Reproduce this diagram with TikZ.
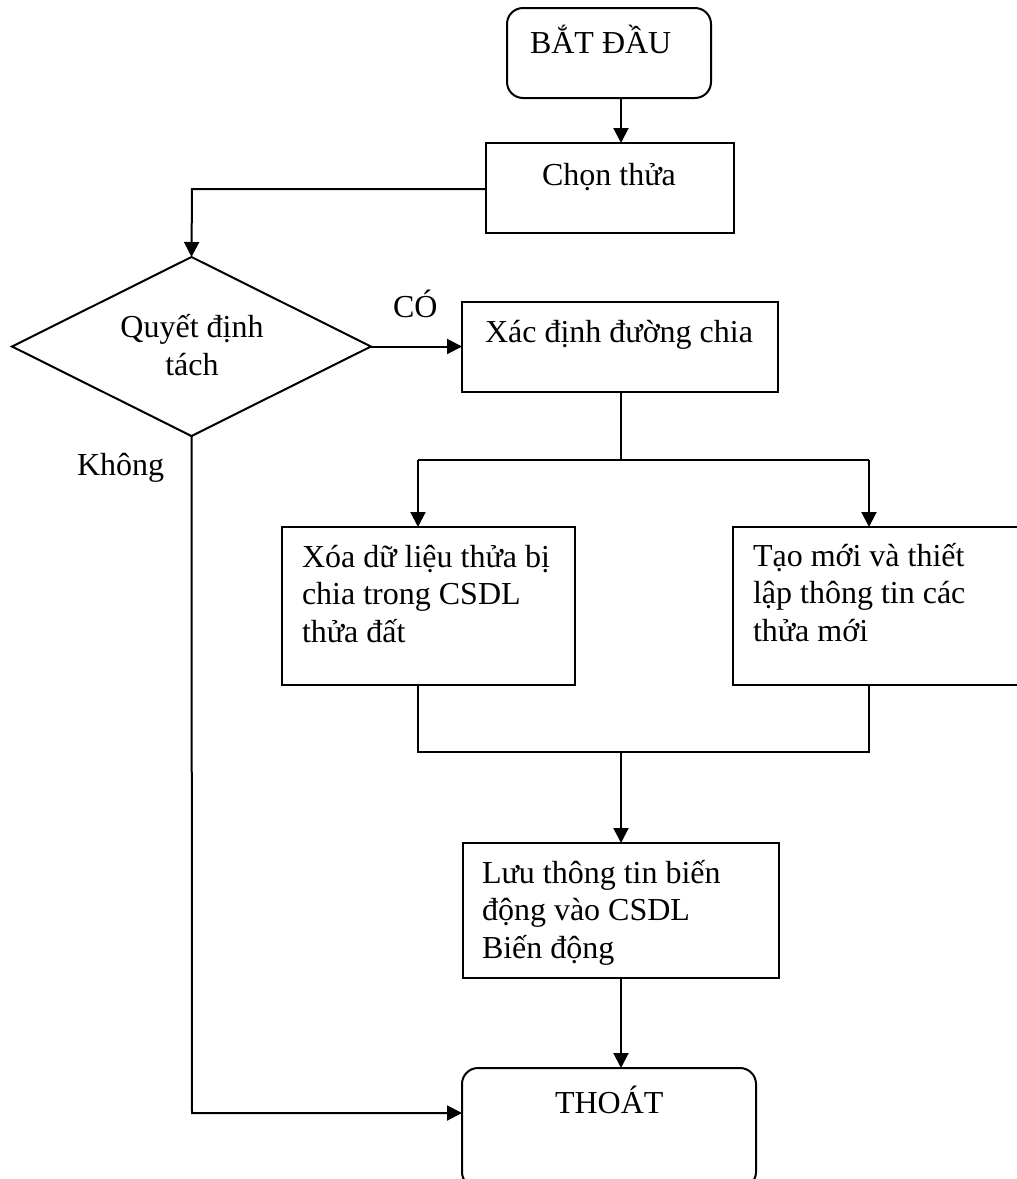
\documentclass[tikz,border=0pt]{standalone}
\usepackage{fontspec}
\setmainfont{Liberation Serif}
\usetikzlibrary{shapes.geometric,arrows.meta}
\begin{document}
\begin{tikzpicture}[x=1pt,y=-1pt,
  every node/.style={font=\fontsize{32}{37.5}\selectfont, inner sep=0pt, outer sep=0pt},
  box/.style={draw, line width=2pt, rectangle},
  rbox/.style={draw, line width=2pt, rectangle, rounded corners=16pt},
  decision/.style={draw, line width=2pt, diamond},
  txt/.style={anchor=base west, align=left},
  link/.style={line width=2pt},
  arrow/.style={line width=2pt, -{Triangle[length=15pt,width=15pt]}}
]
\useasboundingbox (0,0) rectangle (1017,1179);

% shapes
\node[rbox, minimum width=204pt, minimum height=90pt] (start) at (609,53) {};
\node[box, minimum width=248pt, minimum height=90pt] (choose) at (610,188) {};
\node[decision, minimum width=359pt, minimum height=179pt] (dec) at (191.5,346.5) {};
\node[box, minimum width=316pt, minimum height=90pt] (split) at (620,347) {};
\node[box, minimum width=293pt, minimum height=158pt] (del) at (428.5,606) {};
\node[box, minimum width=300pt, minimum height=158pt] (new) at (883,606) {};
\node[box, minimum width=316pt, minimum height=135pt] (save) at (621,910.5) {};
\node[rbox, minimum width=294pt, minimum height=120pt] (end) at (609,1128) {};

% texts (multi-line nodes: base = last line baseline)
\node[txt] (tstart) at (530,53) {BẮT ĐẦU};
\node[anchor=base] (tchoose) at (609,185) {Chọn thửa};
\node[anchor=base] (tdec1) at (192,337) {Quyết định};
\node[anchor=base] (tdec2) at (192,375) {tách};
\node[txt] (tsplit) at (485,342) {Xác định đường chia};
\node[txt] (tdel) at (302,642) {Xóa dữ liệu thửa bị\\chia trong CSDL\\thửa đất};
\node[txt] (tnew) at (753,641) {Tạo mới và thiết\\lập thông tin các\\thửa mới};
\node[txt] (tsave) at (482,958) {Lưu thông tin biến\\động vào CSDL\\Biến động};
\node[txt] (tend) at (555,1113) {THOÁT};
\node[txt] (tyes) at (393,317) {CÓ};
\node[txt] (tno) at (77,475) {Không};

% helper coordinates
\coordinate (cx) at (621,0);
\coordinate (lx) at (418,0);
\coordinate (rx) at (869,0);
\coordinate (dx) at (192,0);
\coordinate (splity) at (0,460);
\coordinate (joiny) at (0,752);
\coordinate (endy) at (0,1113);
\coordinate (choosey) at (0,189);

% connectors
\draw[arrow] (start.south -| cx) -- (choose.north -| cx);
\draw[arrow] (choose.west |- choosey) -- (dx |- choosey) -- (dec.north);
\draw[arrow] (dec.east) -- (split.west |- dec.east);
\draw[link] (split.south -| cx) -- (cx |- splity);
\draw[link] (lx |- splity) -- (rx |- splity);
\draw[arrow] (lx |- splity) -- (del.north -| lx);
\draw[arrow] (rx |- splity) -- (new.north -| rx);
\draw[link] (del.south -| lx) -- (lx |- joiny) -- (rx |- joiny) -- (new.south -| rx);
\draw[arrow] (cx |- joiny) -- (save.north -| cx);
\draw[arrow] (save.south -| cx) -- (end.north -| cx);
\draw[arrow] (dec.south) -- (dx |- endy) -- (end.west |- endy);
\end{tikzpicture}
\end{document}
